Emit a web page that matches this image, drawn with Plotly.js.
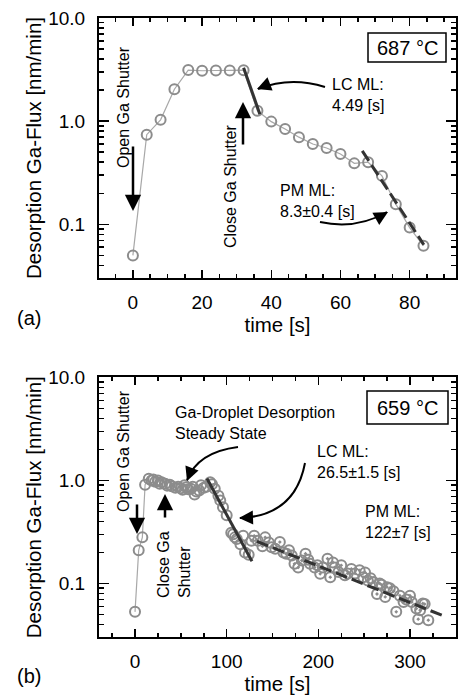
<!DOCTYPE html>
<html>
<head>
<meta charset="utf-8">
<script src="https://cdn.plot.ly/plotly-3.0.1.min.js"></script>
<style>html,body{margin:0;padding:0;background:#fff;}#chart{width:461px;height:696px;}</style>
</head>
<body>
<div id="chart"></div>
<script>
// ---------- data: panel (a) 687 °C ----------
const aTime = [0, 4, 8, 12, 16, 20, 24, 28, 32, 36, 40, 44, 48, 52, 56, 60, 64, 68, 72, 76, 80, 84];
const aFlux = [0.050, 0.74, 1.03, 2.04, 3.13, 3.08, 3.10, 3.10, 3.12, 1.26, 0.99, 0.84, 0.70, 0.60, 0.55, 0.48, 0.39, 0.40, 0.295, 0.157, 0.093, 0.062];
const aLcFitTime = [32, 36.7];
const aLcFitFlux = [3.3, 1.17];
const aPmFitTime = [66.3, 84.1];
const aPmFitFlux = [0.515, 0.0635];

// ---------- data: panel (b) 659 °C ----------
const bTime = [0, 4, 8, 11, 15, 18, 20, 22, 25, 27, 29, 33, 35, 38, 40, 44, 47, 50, 52, 54, 56, 58, 61, 63, 65, 67, 70, 72, 75, 78, 82, 84, 87,
  91, 93, 96, 100, 105, 107, 109, 111, 115, 118, 120, 124,
  127, 130, 134, 139, 142, 146, 149, 153, 158, 162, 165, 168, 171, 174, 178, 182, 186, 189, 191, 196, 199, 202, 205, 210, 213, 216, 218, 222,
  225, 229, 232, 236, 240, 245, 249, 251, 254, 257, 260, 264, 267, 269, 273, 275, 278, 282, 285, 289, 293, 296, 300, 302, 307, 309, 311, 314, 316, 320];
const bFlux = [0.053, 0.21, 0.28, 0.91, 1.04, 1.00, 1.02, 0.97, 1.00, 0.93, 0.96, 0.93, 0.89, 0.91, 0.88, 0.85, 0.87, 0.84, 0.81, 0.90, 0.86, 0.82, 0.83, 0.87, 0.73, 0.78, 0.80, 0.90, 0.85, 0.87, 0.96, 0.92, 0.83,
  0.71, 0.64, 0.55, 0.46, 0.31, 0.30, 0.28, 0.27, 0.24, 0.29, 0.20, 0.19,
  0.26, 0.29, 0.26, 0.23, 0.28, 0.25, 0.225, 0.217, 0.252, 0.20, 0.194, 0.21, 0.187, 0.155, 0.143, 0.167, 0.194, 0.17, 0.155, 0.143, 0.15, 0.124, 0.143, 0.174, 0.115, 0.16, 0.143, 0.129,
  0.15, 0.12, 0.125, 0.138, 0.125, 0.134, 0.115, 0.128, 0.107, 0.112, 0.103, 0.079, 0.10, 0.097, 0.074, 0.092, 0.09, 0.084, 0.053, 0.076, 0.066, 0.07, 0.076, 0.066, 0.057, 0.045, 0.055, 0.064, 0.063, 0.044];
const bLcFitTime = [78.5, 127.6];
const bLcFitFlux = [1.045, 0.164];
const bPmFitTime = [133, 335];
const bPmFitFlux = [0.256, 0.049];

const yTickVals = [0.1, 1, 10];
const yTickText = ['0.1', '1.0', '10.0'];
const yMinorVals = [0.04, 0.05, 0.06, 0.07, 0.08, 0.09, 0.2, 0.3, 0.4, 0.5, 0.6, 0.7, 0.8, 0.9, 2, 3, 4, 5, 6, 7, 8, 9];

// ---------- layout helpers (pixel -> paper) ----------
const L = 99, R = 456, T = 18, B = 637;
const px = x => (x - L) / (R - L);
const py = y => (B - y) / (B - T);

const FONT = 'Liberation Sans, Arial, Helvetica, sans-serif';
const markerGray = '#8c8c8c';
const lineGray = '#a8a8a8';
const fitColor = '#333333';

const traces = [
  // panel a
  {x: aTime, y: aFlux, xaxis: 'x', yaxis: 'y', mode: 'lines+markers', type: 'scatter',
   line: {color: lineGray, width: 1.2},
   marker: {symbol: 'circle-open', size: 10, color: markerGray, line: {width: 2, color: markerGray}}},
  {x: aLcFitTime, y: aLcFitFlux, xaxis: 'x', yaxis: 'y', mode: 'lines', type: 'scatter',
   line: {color: fitColor, width: 3}},
  {x: aPmFitTime, y: aPmFitFlux, xaxis: 'x', yaxis: 'y', mode: 'lines', type: 'scatter',
   line: {color: fitColor, width: 3, dash: '12px,5px'}},
  // panel b
  {x: bTime.slice(0, 5), y: bFlux.slice(0, 5), xaxis: 'x2', yaxis: 'y2', mode: 'lines', type: 'scatter',
   line: {color: lineGray, width: 1.2}},
  {x: bTime, y: bFlux, xaxis: 'x2', yaxis: 'y2', mode: 'markers', type: 'scatter',
   marker: {symbol: bTime.map(t => t >= 125 ? 'circle-open-dot' : 'circle-open'), size: 10, color: markerGray,
            line: {width: 2, color: markerGray}}},
  {x: bLcFitTime, y: bLcFitFlux, xaxis: 'x2', yaxis: 'y2', mode: 'lines', type: 'scatter',
   line: {color: fitColor, width: 3}},
  {x: bPmFitTime, y: bPmFitFlux, xaxis: 'x2', yaxis: 'y2', mode: 'lines', type: 'scatter',
   line: {color: fitColor, width: 3, dash: '12px,5px'}}
];

function xAxis(range, dtick, mdtick, anchor) {
  return {
    domain: [0, 1], anchor: anchor, range: range, dtick: dtick, tick0: 0,
    showline: true, linecolor: '#000', linewidth: 2, mirror: 'ticks',
    ticks: 'inside', ticklen: 8, tickwidth: 1.5, tickcolor: '#000',
    minor: {dtick: mdtick, tick0: 0, ticks: 'inside', ticklen: 4, tickwidth: 1.5, tickcolor: '#000'},
    showgrid: false, zeroline: false,
    tickfont: {family: FONT, size: 19, color: '#000'},
    ticklabelstandoff: 6,
    title: {text: 'time [s]', font: {family: FONT, size: 20.5, color: '#000'}, standoff: 4}
  };
}
function yAxis(domain, anchor) {
  return {
    domain: domain, anchor: anchor, type: 'log', range: [-1.52, 1.0],
    tickmode: 'array', tickvals: yTickVals, ticktext: yTickText,
    showline: true, linecolor: '#000', linewidth: 2, mirror: 'ticks',
    ticks: 'inside', ticklen: 10, tickwidth: 1.5, tickcolor: '#000',
    minor: {tickmode: 'array', tickvals: yMinorVals, ticks: 'inside', ticklen: 5, tickwidth: 1.5, tickcolor: '#000'},
    showgrid: false, zeroline: false,
    tickfont: {family: FONT, size: 19, color: '#000'},
    ticklabelstandoff: 8,
    title: {text: 'Desorption Ga-Flux [nm/min]', font: {family: FONT, size: 20.5, color: '#000'}, standoff: 1}
  };
}

const annFont = {family: FONT, size: 16, color: '#000'};
function txt(text, x, y, opts) {
  return Object.assign({text: text, xref: 'paper', yref: 'paper', x: px(x), y: py(y), showarrow: false,
    font: annFont, xanchor: 'center', yanchor: 'middle'}, opts || {});
}
function straightArrow(tx, ty, fx, fy) {
  return {text: '', xref: 'paper', yref: 'paper', x: px(tx), y: py(ty), ax: fx - tx, ay: fy - ty,
    showarrow: true, arrowhead: 2, arrowsize: 1.3, arrowwidth: 2.5, arrowcolor: '#000', standoff: 0};
}
function curve(x0, y0, cx, cy, x1, y1) {
  return {type: 'path', xref: 'paper', yref: 'paper',
    path: `M ${px(x0)},${py(y0)} Q ${px(cx)},${py(cy)} ${px(x1)},${py(y1)}`,
    line: {color: '#000', width: 2}};
}
function curveHead(cx, cy, x1, y1) {
  const dx = cx - x1, dy = cy - y1, n = Math.hypot(dx, dy);
  return {text: '', xref: 'paper', yref: 'paper', x: px(x1), y: py(y1), ax: dx / n * 10, ay: dy / n * 10,
    showarrow: true, arrowhead: 2, arrowsize: 1.4, arrowwidth: 2, arrowcolor: '#000', standoff: 0};
}
function box(x0, y0, x1, y1) {
  return {type: 'rect', xref: 'paper', yref: 'paper', x0: px(x0), y0: py(y1), x1: px(x1), y1: py(y0),
    line: {color: '#000', width: 1.5}, fillcolor: '#fff'};
}

const annotations = [
  // panel a
  txt('687 °C', 407, 48, {font: {family: FONT, size: 20, color: '#000'}}),
  txt('LC ML:<br>4.49 [s]', 330, 95, {xanchor: 'left', align: 'left'}),
  txt('PM ML:<br>8.3±0.4 [s]', 278, 201, {xanchor: 'left', align: 'left'}),
  txt('Open Ga Shutter', 123, 107, {textangle: -90}),
  txt('Close Ga Shutter', 230, 187, {textangle: -90}),
  txt('(a)', 29, 318, {font: {family: FONT, size: 20, color: '#000'}}),
  straightArrow(133, 211, 133, 145),
  straightArrow(243, 102, 243, 146),
  curveHead(290, 76, 257, 89),
  curveHead(356, 230, 388, 212),
  // panel b
  txt('659 °C', 407.5, 408, {font: {family: FONT, size: 20, color: '#000'}}),
  txt('Ga-Droplet Desorption<br>Steady State', 173, 423, {xanchor: 'left', align: 'left'}),
  txt('LC ML:<br>26.5±1.5 [s]', 315, 462, {xanchor: 'left', align: 'left'}),
  txt('PM ML:<br>122±7 [s]', 363, 522, {xanchor: 'left', align: 'left'}),
  txt('Open Ga Shutter', 123, 451, {textangle: -90}),
  txt('Close Ga<br>Shutter', 174, 565, {textangle: -90, align: 'left'}),
  txt('(b)', 29, 676, {font: {family: FONT, size: 20, color: '#000'}}),
  straightArrow(137, 534, 137, 503),
  straightArrow(165, 494, 165, 519),
  curveHead(198, 452, 187, 481),
  curveHead(295, 516, 239, 518)
];

const shapes = [
  box(368, 33, 446, 62),
  box(367, 391, 448, 424),
  curve(325, 87, 290, 76, 258, 89),
  curve(320, 222, 356, 230, 387, 212),
  curve(238, 447, 198, 452, 187, 480),
  curve(305, 463, 295, 516, 240, 518)
];

const layout = {
  width: 461, height: 696,
  margin: {l: L, r: 461 - R, t: T, b: 696 - B, pad: 0},
  paper_bgcolor: '#fff', plot_bgcolor: '#fff',
  showlegend: false, hovermode: false,
  font: {family: FONT, color: '#000'},
  xaxis: xAxis([-9.8, 93.4], 20, 5, 'y'),
  yaxis: yAxis([py(278), 1], 'x'),
  xaxis2: xAxis([-39.3, 350.2], 100, 25, 'y2'),
  yaxis2: yAxis([0, py(377.4)], 'x2'),
  annotations: annotations,
  shapes: shapes
};

Plotly.newPlot('chart', traces, layout, {displayModeBar: false, staticPlot: true});
</script>
</body>
</html>
